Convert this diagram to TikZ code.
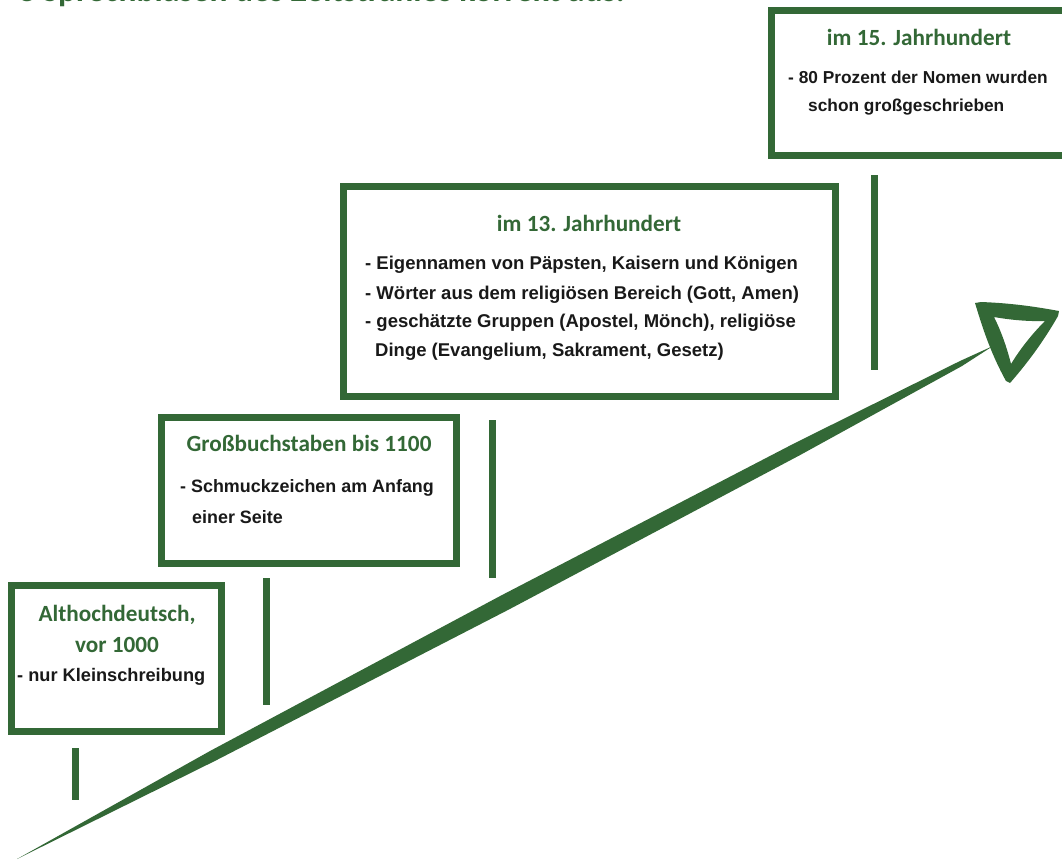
\documentclass[tikz,border=0pt]{standalone}
\usepackage{fontspec}
\setmainfont{Liberation Sans}
\newfontfamily\titlefont{Carlito}
\definecolor{tgreen}{RGB}{51,104,54}
\definecolor{ttext}{RGB}{25,25,25}
\tikzset{
  tbox/.style={draw=tgreen, line width=7pt, fill=none, inner sep=0pt},
  ttitle/.style={inner sep=0pt, text=tgreen, font=\titlefont\bfseries\fontsize{23.2}{28}\selectfont},
  tbody/.style={inner sep=0pt, anchor=west, text=ttext, font=\bfseries\fontsize{#1}{22}\selectfont},
  tbody/.default=17.8,
  tick/.style={draw=tgreen, line width=7pt},
}
\begin{document}
\begin{tikzpicture}[x=1pt,y=-1pt]
\useasboundingbox (0,0) rectangle (1062,859);
\clip (0,0) rectangle (1062,859);
\fill[white] (0,0) rectangle (1062,859);

% heading (cut off at the top)
\node[anchor=base east, inner sep=0pt, text=tgreen, font=\titlefont\bfseries\fontsize{33.5}{40}\selectfont] (head) at (625,2) {e Sprechblasen des Zeitstrahles korrekt aus.};

% boxes
\node[tbox, minimum width=303.5pt, minimum height=144pt] (b15) at (923.25,83) {};
\node[tbox, minimum width=492pt, minimum height=210pt] (b13) at (589,291.5) {};
\node[tbox, minimum width=295pt, minimum height=146.5pt] (b11) at (309,490.25) {};
\node[tbox, minimum width=210.5pt, minimum height=146pt] (b10) at (116.25,658.5) {};

% box 15
\node[ttitle] (t15) at (919,37) {im 15. Jahrhundert};
\node[tbody=17.3] (l15a) at (788,77) {- 80 Prozent der Nomen wurden};
\node[tbody=17.3] (l15b) at (808,107) {schon großgeschrieben};

% box 13
\node[ttitle] (t13) at (589,223) {im 13. Jahrhundert};
\node[tbody=18.5] (l13a) at (365,265) {- Eigennamen von Päpsten, Kaisern und Königen};
\node[tbody=18.5] (l13b) at (365,295) {- Wörter aus dem religiösen Bereich (Gott, Amen)};
\node[tbody=18.5] (l13c) at (365,323) {- geschätzte Gruppen (Apostel, Mönch), religiöse};
\node[tbody=18.5] (l13d) at (375,352) {Dinge (Evangelium, Sakrament, Gesetz)};

% box 1100
\node[ttitle] (t11) at (309,443) {Großbuchstaben bis 1100};
\node[tbody=17.9] (l11a) at (180,488) {- Schmuckzeichen am Anfang};
\node[tbody=17.9] (l11b) at (192,517) {einer Seite};

% box 1000
\node[ttitle] (t10a) at (117,615) {Althochdeutsch,};
\node[ttitle] (t10b) at (117,645) {vor 1000};
\node[tbody=18.2] (l10a) at (17,677) {- nur Kleinschreibung};

% ticks
\coordinate (k1a) at (75,748); \coordinate (k1b) at (75,800);
\coordinate (k2a) at (266,578); \coordinate (k2b) at (266,705);
\coordinate (k3a) at (492,420); \coordinate (k3b) at (492,578);
\coordinate (k4a) at (874,175); \coordinate (k4b) at (874,370);
\draw[tick] (k1a) -- (k1b);
\draw[tick] (k2a) -- (k2b);
\draw[tick] (k3a) -- (k3b);
\draw[tick] (k4a) -- (k4b);

% main tapered arrow shaft
\fill[tgreen] (17,859) -- (210.2,750.9) -- (501.3,595.4) -- (794.2,443.4) -- (960,361) -- (993,346)
  -- (962,366) -- (800.2,455.0) -- (508.7,609.6) -- (215.4,760.7) -- cycle;

% arrow head (hollow brush triangle)
\fill[tgreen, even odd rule]
  (975,303) -- (981,302) .. controls (1008,303) and (1032,306) .. (1059,311)
  -- (1058,316) .. controls (1046,337) and (1031,359) .. (1010,383)
  -- (1006,381) .. controls (990,352) and (982,326) .. cycle
  (994,317) .. controls (1011,320) and (1028,321.5) .. (1045,321)
  .. controls (1032,334) and (1020.5,348.5) .. (1011,364)
  .. controls (1007,348) and (1001.5,332) .. cycle;
\end{tikzpicture}
\end{document}
